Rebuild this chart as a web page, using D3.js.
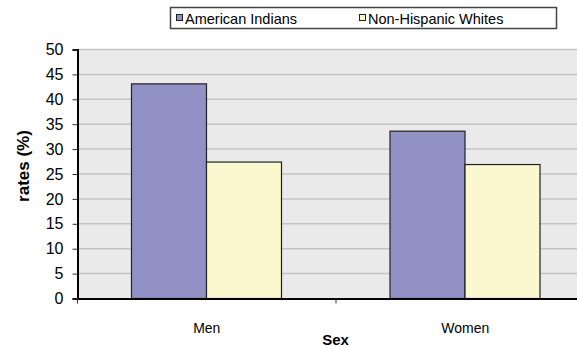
<!DOCTYPE html>
<html>
<head>
<meta charset="utf-8">
<script src="https://cdn.jsdelivr.net/npm/d3@7"></script>
<style>
  body { margin: 0; background: #fff; }
  svg { display: block; font-family: "Liberation Sans", Arial, sans-serif; }
</style>
</head>
<body>
<div id="chart"></div>
<script>
// Data
var categories = ["Men", "Women"];
var seriesNames = ["American Indians", "Non-Hispanic Whites"];
var americanIndians = [43.1, 33.6];
var nonHispanicWhites = [27.4, 26.9];
var yTicks = [0, 5, 10, 15, 20, 25, 30, 35, 40, 45, 50];
var seriesColors = ["#9191c6", "#fbf7cf"];

var svgWidth = 577;
var svgHeight = 347;

// plot area runs off the right edge of the picture, like the original
var margin = { top: 49.5, left: 77.5 };
var plotRight = 594.5;
var plotBottom = 298.5;

var svg = d3.select("#chart")
  .append("svg")
  .attr("width", svgWidth)
  .attr("height", svgHeight);

var rows = categories.map(function (c, i) {
  return { cat: c, values: [americanIndians[i], nonHispanicWhites[i]] };
});

// scales
var x0 = d3.scaleBand()
  .domain(categories)
  .range([margin.left, plotRight])
  .padding(0);

var x1 = d3.scaleBand()
  .domain(seriesNames)
  .range([54, 204])
  .padding(0);

var y = d3.scaleLinear()
  .domain([0, 50])
  .range([plotBottom, margin.top]);

// background
svg.append("rect")
  .attr("x", margin.left)
  .attr("y", margin.top)
  .attr("width", plotRight - margin.left)
  .attr("height", plotBottom - margin.top)
  .attr("fill", "#eaeaea");

// gridlines
svg.append("g")
  .selectAll("line")
  .data(yTicks.slice(1))
  .enter()
  .append("line")
  .attr("x1", margin.left)
  .attr("x2", plotRight)
  .attr("y1", d => y(d))
  .attr("y2", d => y(d))
  .attr("stroke", "#c4c4c4")
  .attr("stroke-width", 1.5);

// bars
var groups = svg.append("g")
  .selectAll("g")
  .data(rows)
  .enter()
  .append("g")
  .attr("transform", d => `translate(${x0(d.cat)},0)`);

groups.selectAll("rect")
  .data(d => d.values.map((v, i) => ({ name: seriesNames[i], value: v, idx: i })))
  .enter()
  .append("rect")
  .attr("x", d => x1(d.name))
  .attr("y", d => y(d.value))
  .attr("width", x1.bandwidth())
  .attr("height", d => plotBottom - y(d.value))
  .attr("fill", d => seriesColors[d.idx])
  .attr("stroke", "#222")
  .attr("stroke-width", 1.2);

// y axis
var leftAxis = d3.axisLeft(y)
  .tickValues(yTicks)
  .tickSize(5)
  .tickPadding(9);

var yAxis = svg.append("g")
  .attr("transform", `translate(${margin.left},0)`)
  .call(leftAxis);
yAxis.select(".domain").attr("stroke", "#000").attr("stroke-width", 2);
yAxis.selectAll(".tick line").attr("stroke", "#333");
yAxis.selectAll("text")
  .attr("font-size", "16px")
  .attr("font-family", "Liberation Sans, Arial, sans-serif")
  .attr("fill", "#000");

// x axis: ticks sit on the category boundaries
var bottomAxis = d3.axisBottom(x0).tickSize(0).tickPadding(25);
var xAxis = svg.append("g")
  .attr("transform", `translate(0,${plotBottom})`)
  .call(bottomAxis);
xAxis.select(".domain").attr("stroke", "#000").attr("stroke-width", 2);
xAxis.selectAll("text")
  .attr("font-size", "14px")
  .attr("font-family", "Liberation Sans, Arial, sans-serif")
  .attr("fill", "#000");

svg.append("g")
  .selectAll("line")
  .data(categories)
  .enter()
  .append("line")
  .attr("x1", d => x0(d))
  .attr("x2", d => x0(d))
  .attr("y1", plotBottom)
  .attr("y2", plotBottom + 5)
  .attr("stroke", "#333");

// axis titles
svg.append("text")
  .attr("transform", "translate(29,166) rotate(-90)")
  .attr("text-anchor", "middle")
  .attr("font-weight", "bold")
  .attr("font-size", "17px")
  .text("rates (%)");

svg.append("text")
  .attr("x", 335.5)
  .attr("y", 345)
  .attr("text-anchor", "middle")
  .attr("font-weight", "bold")
  .attr("font-size", "15px")
  .text("Sex");

// legend
var legend = svg.append("g");
legend.append("rect")
  .attr("x", 170.5)
  .attr("y", 7.5)
  .attr("width", 386)
  .attr("height", 21)
  .attr("fill", "#fff")
  .attr("stroke", "#444")
  .attr("stroke-width", 1.5);

var legendX = [176, 359];
var items = legend.selectAll("g.item")
  .data(seriesNames)
  .enter()
  .append("g")
  .attr("class", "item")
  .attr("transform", (d, i) => `translate(${legendX[i]},0)`);

items.append("rect")
  .attr("x", 0.5)
  .attr("y", 14.5)
  .attr("width", 6)
  .attr("height", 6)
  .attr("fill", (d, i) => seriesColors[i])
  .attr("stroke", "#222")
  .attr("stroke-width", 1);

items.append("text")
  .attr("x", 9)
  .attr("y", 24)
  .attr("font-size", "14.5px")
  .text(d => d);
</script>
</body>
</html>
